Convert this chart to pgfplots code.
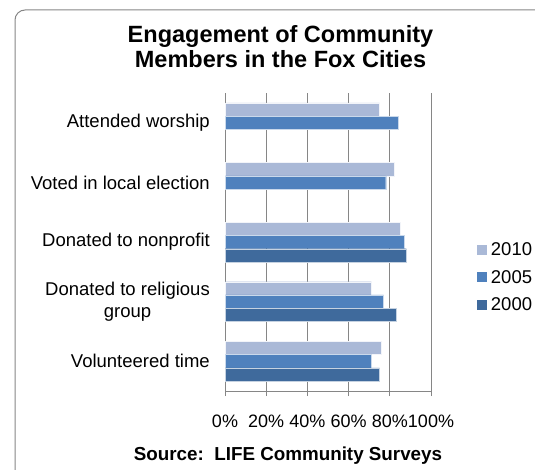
\documentclass[border=0pt]{standalone}
\usepackage{pgfplots}
\pgfplotsset{compat=1.18}
\usepackage{fontspec}
\setmainfont{Liberation Sans}
\definecolor{c2010}{HTML}{AAB9D7}
\definecolor{c2005}{HTML}{4F81BD}
\definecolor{c2000}{HTML}{3F6A9C}
\definecolor{gridc}{HTML}{868686}
\begin{document}
\begin{tikzpicture}[x=1pt,y=1pt]
\useasboundingbox (0,0) rectangle (535,469);
\draw[gridc, line width=1pt, rounded corners=10pt] (15,459) rectangle (570,-30);
\node[anchor=base, font=\fontsize{23.5}{27}\selectfont\bfseries] at (280.5,426) {Engagement of Community};
\node[anchor=base, font=\fontsize{23.5}{27}\selectfont\bfseries] at (280.5,401) {Members in the Fox Cities};
\node[anchor=base, font=\fontsize{18.8}{22}\selectfont\bfseries] at (288,8.3) {Source:\ \ LIFE Community Surveys};
\begin{axis}[
  at={(225pt,78pt)}, anchor=south west,
  scale only axis, width=206pt, height=298pt,
  xmin=0, xmax=100, ymin=-0.5, ymax=4.5,
  axis x line=bottom, axis y line=left,
  axis line style={-, gridc, line width=1pt},
  xtick={0,20,40,60,80,100},
  xticklabels={0\%,20\%,40\%,60\%,80\%,100\%},
  xtick align=outside,
  major tick length=5pt,
  x tick style={gridc, line width=1pt},
  xmajorgrids,
  grid style={gridc, line width=1pt},
  ytick={0,1,2,3,4},
  yticklabels={Volunteered time,{Donated to religious\\group},Donated to nonprofit,Voted in local election,Attended worship},
  y tick style={draw=none},
  yticklabel style={align=center, font=\fontsize{18.5}{22}\selectfont, inner sep=0pt, xshift=-10pt},
  xticklabel style={font=\fontsize{18}{21}\selectfont, inner sep=0pt, yshift=-19pt},
  xbar, bar width=13.3pt,
  legend style={at={(1.222,0.381)}, anchor=west, draw=none, fill=none,
    font=\fontsize{18.5}{22}\selectfont, row sep=9pt, inner sep=0pt,
    /tikz/every odd column/.append style={column sep=2pt}},
  legend cell align=left,
  legend image code/.code={\fill[#1,draw=none] (0pt,-5pt) rectangle (10pt,5pt);},
]
\addplot[fill=c2010, draw=white!85!c2010, line width=0.3pt, bar shift=13.3pt] coordinates {(76,0) (71,1) (85,2) (82,3) (75,4)};
\addplot[fill=c2005, draw=white!70!c2005, line width=0.3pt, bar shift=0pt] coordinates {(71,0) (77,1) (87,2) (78,3) (84,4)};
\addplot[fill=c2000, draw=white!70!c2000, line width=0.3pt, bar shift=-13.3pt] coordinates {(75,0) (83,1) (88,2)};
\legend{2010,2005,2000}
\end{axis}
\end{tikzpicture}
\end{document}
